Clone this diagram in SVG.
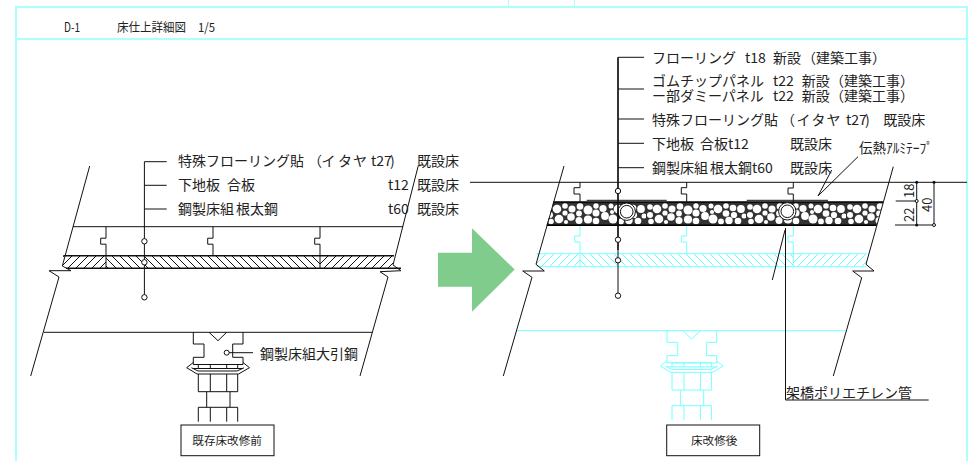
<svg xmlns="http://www.w3.org/2000/svg" width="978" height="461" viewBox="0 0 978 461">
<style>
text{font-family:"Noto Sans CJK JP","Liberation Sans",sans-serif;font-size:14px;fill:#222}
.s{font-size:12.5px}
.k{fill:none;stroke:#111;stroke-width:1}
.b{fill:none;stroke:#000;stroke-width:1.5}
.c{fill:none;stroke:#7ff;stroke-width:1}
.o{fill:#fff;stroke:#111;stroke-width:1}
.f{fill:none;stroke:#aff;stroke-width:2}
</style>
<defs>
<pattern id="hf" patternUnits="userSpaceOnUse" width="8" height="8"><path d="M-1 9L9 -1M-4 4L4 -4M4 12L12 4" stroke="#111" stroke-width="1" fill="none"/></pattern>
<pattern id="hb" patternUnits="userSpaceOnUse" width="8" height="8"><path d="M-1 -1L9 9M-4 4L4 12M4 -4L12 4" stroke="#111" stroke-width="1" fill="none"/></pattern>
<pattern id="cf" patternUnits="userSpaceOnUse" width="8" height="8"><path d="M-1 9L9 -1M-4 4L4 -4M4 12L12 4" stroke="#6ff" stroke-width="1" fill="none"/></pattern>
<pattern id="cb" patternUnits="userSpaceOnUse" width="8" height="8"><path d="M-1 -1L9 9M-4 4L4 12M4 -4L12 4" stroke="#6ff" stroke-width="1" fill="none"/></pattern>
<pattern id="gravel" patternUnits="userSpaceOnUse" x="546" y="202" width="100" height="23">
<rect width="100" height="23" fill="#333"/>
<g fill="#fff">
<circle cx="4" cy="5" r="2.800"/><circle cx="11" cy="7" r="4.300"/><circle cx="19" cy="4" r="2.800"/><circle cx="26" cy="7" r="3.500"/><circle cx="34" cy="4.500" r="3.300"/><circle cx="42" cy="8" r="4.500"/><circle cx="50" cy="4" r="2.700"/><circle cx="57" cy="6.500" r="3.600"/><circle cx="65" cy="4" r="2.500"/><circle cx="72" cy="7" r="4.300"/><circle cx="80" cy="4" r="2.800"/><circle cx="87" cy="6" r="3.300"/><circle cx="95" cy="7" r="3.900"/>
<circle cx="4" cy="13" r="3"/><circle cx="19" cy="11" r="2.600"/><circle cx="25" cy="15" r="3.800"/><circle cx="33" cy="11.500" r="2.900"/><circle cx="50" cy="11" r="3.500"/><circle cx="59" cy="14" r="3.900"/><circle cx="66" cy="10" r="2.100"/><circle cx="80" cy="11.500" r="3.300"/><circle cx="88" cy="13" r="3.100"/>
<circle cx="5" cy="19.500" r="2.800"/><circle cx="13" cy="17" r="4.300"/><circle cx="20" cy="20" r="2.100"/><circle cx="33" cy="18.500" r="3.500"/><circle cx="42" cy="17.500" r="4.100"/><circle cx="50" cy="19" r="3.300"/><circle cx="67" cy="17" r="4.500"/><circle cx="75" cy="19.500" r="2.900"/><circle cx="83" cy="18.500" r="3.700"/><circle cx="92" cy="19" r="3.300"/><circle cx="98" cy="14" r="2.500"/>
</g>
</pattern>
<g id="beam">
<path d="M193.300 332.300V344H204V357.300H193.300V364.500H243V357.300H232.700V344H243V332.300M209 332.300L218 340.700L226.700 332.300"/>
<path d="M198.300 368.500V364.500H237.700V368.500M210.300 364.500V368.500M226.700 364.500V368.500"/>
<path d="M193.300 362.500L186.700 367.700L197 374H238.500L249.500 367.700L243 362.500"/>
<path d="M191.500 367.800L198 371H237L244 367.800M193.300 368.500H243"/>
<path d="M198.300 374V391.700H237.700V374M210.300 374V391.700M226.700 374V391.700"/>
<path d="M206.700 391.700V407.300M230 391.700V407.300"/>
<path d="M198.300 421.700V407.300H237.700V421.700M210.300 407.300V421.700M226.700 407.300V421.700"/>
</g>
<path id="j1" d="M0 0V11.500H-5.300V17.500H0V29"/>
</defs>

<g id="frame">
<path d="M16 461V7H967V461M16 39H967" class="f"/>
<path d="M508.500 0V7M574.500 0V7" stroke="#aff" stroke-width="1" fill="none"/>
</g>
<g id="title">
<text class="s" x="64" y="32" textLength="16" lengthAdjust="spacingAndGlyphs">D-1</text>
<text class="s" x="117" y="32" textLength="69" lengthAdjust="spacingAndGlyphs">床仕上詳細図</text>
<text class="s" x="198" y="32" textLength="17" lengthAdjust="spacingAndGlyphs">1/5</text>
</g>

<g id="before-floor">
<polygon points="63.300,255.700 106,255.700 106,268.300 66,268.300 62.300,266" fill="url(#hf)"/>
<polygon points="106,255.700 320,255.700 320,268.300 106,268.300" fill="url(#hb)"/>
<polygon points="320,255.700 394,255.700 393,265 397,268.300 320,268.300" fill="url(#hf)"/>
<path class="k" d="M89.700 166L62.300 266L71 270.700H49L59 277L30.700 376"/>
<path class="k" d="M418 166.700L393 265L401 270.700L380 271.700L388 277L360 376"/>
<path class="k" d="M73 226.700H403M44 332.300H372"/>
<path class="k" d="M63.300 255.700H394M66 268.300H401" style="stroke-width:1.400"/>
<use href="#j1" x="106" y="226.700" class="k"/><use href="#j1" x="213" y="226.700" class="k"/><use href="#j1" x="320" y="226.700" class="k"/>
<path class="k" d="M106 255.700V268M320 255.700V268"/>
</g>
<g id="before-beam" class="k"><use href="#beam"/></g>
<g id="before-leaders">
<path class="k" d="M144.400 161.700V295M144.400 161.700H166.700M144.400 185.300H166.700M144.400 209H166.700M229 352.700H253"/>
<circle class="o" cx="144.400" cy="241.300" r="2.700"/><circle class="o" cx="144.400" cy="262.300" r="2.700"/><circle class="o" cx="144.400" cy="297.300" r="2.700"/><circle class="o" cx="226.700" cy="352.700" r="2.500"/>
</g>
<g id="before-labels">
<text x="178" y="166">特殊フローリング貼</text><text x="308" y="166">（</text><text x="321.500" y="166">イ</text><text x="338" y="166">タ</text><text x="353" y="166">ヤ</text><text x="371" y="166">t27</text><text x="390" y="166">)</text><text x="417" y="166">既設床</text>
<text x="178" y="190">下地板</text><text x="227" y="190">合板</text><text x="388" y="190">t12</text><text x="417" y="190">既設床</text>
<text x="178" y="214">鋼製床組</text><text x="236" y="214">根太鋼</text><text x="388" y="214">t60</text><text x="417" y="214">既設床</text>
<text x="260" y="359">鋼製床組大引鋼</text>
</g>
<g id="before-box">
<rect class="k" x="181" y="425" width="93" height="30.700"/>
<text x="192.300" y="445" style="font-size:11.600px">既存床改修前</text>
</g>

<g id="arrow"><polygon points="438,252.700 472,252.700 472,228.300 514.700,269.500 472,311.700 472,286.700 438,286.700" fill="#80cc8c"/></g>

<g id="after-cyan">
<polygon points="536.700,253.700 580,253.700 580,266.700 536.700,266.700" fill="url(#cf)"/>
<polygon points="580,253.700 793.300,253.700 793.300,266.700 580,266.700" fill="url(#cb)"/>
<polygon points="793.300,253.700 866.700,253.700 866.700,266.700 793.300,266.700" fill="url(#cf)"/>
<path class="c" d="M536.700 253.700H866.700M536.700 266.700H866.700M580 253.700V266.700M793.300 253.700V266.700M516.700 330.700H845.700"/>
<g class="c">
<path d="M580 225V236H574.700V242H580V253.700M686.700 225V236H681.300V242H686.700V253.700M793.300 225V236H788V242H793.300V253.700"/>
<use href="#beam" x="473.700" y="-1.600"/>
</g>
</g>
<g id="after-floor">
<polygon points="553.300,202 883,202 876.700,225 546.700,225" fill="url(#gravel)"/>
<path class="b" d="M553.300 202H883M546.700 225.300H876.700"/>
<path class="k" d="M470 182.300H967M586.700 200.300H666.700M746.700 200.300H828"/>
<path class="k" d="M580 182.300V187.700H574V194H580V202M686.700 182.300V187.700H681.300V194H686.700V202M793.300 182.300V188H788V194H793.300V202"/>
<circle cx="626.700" cy="211.700" r="8.700" fill="#fff" stroke="#111" stroke-width="1"/><circle cx="626.700" cy="211.700" r="6.300" fill="#fff" stroke="#111" stroke-width="1"/>
<circle cx="787.300" cy="211.300" r="8.700" fill="#fff" stroke="#111" stroke-width="1"/><circle cx="787.300" cy="211.300" r="6.300" fill="#fff" stroke="#111" stroke-width="1"/>
<path class="k" d="M564 166L536 264.300L544.300 271H522.700L532 277.300L503.300 376"/>
<path class="k" d="M893.300 166.700L866 264.300L874 271H852.700L861.700 277.700L833.300 376"/>
<path class="k" d="M785 230L772.300 280"/>
</g>
<g id="after-leaders">
<path class="k" d="M618 57.300V250" style="stroke-width:1.700"/>
<path class="k" d="M618 250V293M618 57.300H644M618 89H644M618 119H644M618 143.300H644M618 167.700H644"/>
<circle class="o" cx="618" cy="191" r="2.700"/><circle class="o" cx="618" cy="239.700" r="2.700"/><circle class="o" cx="618" cy="260.300" r="2.700"/><circle class="o" cx="618" cy="295.700" r="2.700"/>
<path class="k" d="M858 156.700L818 196M831.700 170L818 196M785.500 228V400H928.700"/>
</g>
<g id="after-labels">
<text x="652" y="63">フローリング</text><text x="745" y="63">t18</text><text x="773" y="63">新設</text><text x="802" y="63">（建築工事）</text>
<text x="652" y="85.500">ゴムチップパネル</text><text x="773" y="85.500">t22</text><text x="801.700" y="85.500">新設</text><text x="830" y="85.500">（建築工事）</text>
<text x="652" y="100.500">ー部ダミーパネル</text><text x="773" y="100.500">t22</text><text x="801.700" y="100.500">新設</text><text x="830" y="100.500">（建築工事）</text>
<text x="652" y="125">特殊フローリング貼</text><text x="781" y="125">（</text><text x="796.500" y="125">イ</text><text x="811.500" y="125">タ</text><text x="826.500" y="125">ヤ</text><text x="846" y="125">t27</text><text x="865" y="125">)</text><text x="883.300" y="125">既設床</text>
<text x="652" y="149">下地板</text><text x="700" y="149">合板t12</text><text x="790" y="149">既設床</text>
<text x="652" y="173">鋼製床組</text><text x="710" y="173">根太鋼t60</text><text x="790" y="173">既設床</text>
<text x="859" y="153" textLength="74" lengthAdjust="spacingAndGlyphs">伝熱ｱﾙﾐﾃｰﾌﾟ</text>
<text x="786" y="398">架橋ポリエチレン管</text>
</g>
<g id="dims">
<path class="k" d="M916.700 182.300V225M934 182.300V225M895.700 201H916.700M895 225H934"/>
<circle cx="916.700" cy="182.300" r="1.500" fill="#111"/><circle cx="934" cy="182.300" r="1.500" fill="#111"/><circle cx="916.700" cy="225" r="1.500" fill="#111"/><circle class="o" cx="916.700" cy="201" r="1.500"/><circle class="o" cx="934" cy="225" r="1.500"/>
<text transform="translate(914 198) rotate(-90)" style="font-size:13px">18</text>
<text transform="translate(914 222) rotate(-90)" style="font-size:13px">22</text>
<text transform="translate(932 212) rotate(-90)" style="font-size:13px">40</text>
</g>
<g id="after-box">
<rect class="k" x="666.700" y="425" width="93" height="30.700"/>
<text x="691" y="445" style="font-size:11.600px">床改修後</text>
</g>
</svg>
